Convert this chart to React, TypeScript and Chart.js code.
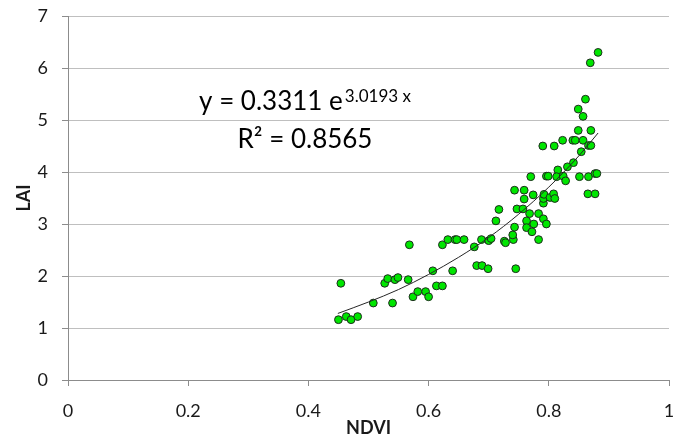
import React, { useEffect, useRef } from "react";
import { Chart, registerables } from "chart.js";

Chart.register(...registerables);

// NDVI (x) values of the measured points
const ndvi: number[] = [
  0.450, 0.463, 0.471, 0.482, 0.454, 0.508, 0.540, 0.527, 0.532, 0.544,
  0.549, 0.566, 0.568, 0.574, 0.582, 0.595, 0.600, 0.607, 0.613, 0.623,
  0.623, 0.632, 0.644, 0.647, 0.659, 0.640, 0.676, 0.688, 0.700, 0.704,
  0.680, 0.689, 0.699, 0.712, 0.717, 0.726, 0.728, 0.741, 0.740, 0.743,
  0.745, 0.783, 0.743, 0.759, 0.759, 0.770, 0.774, 0.747, 0.757, 0.768,
  0.763, 0.763, 0.775, 0.772, 0.783, 0.791, 0.796, 0.791, 0.791, 0.792,
  0.802, 0.808, 0.810, 0.796, 0.799, 0.815, 0.813, 0.824, 0.828, 0.831,
  0.841, 0.851, 0.866, 0.877, 0.880, 0.865, 0.877, 0.854, 0.882, 0.869,
  0.861, 0.849, 0.857, 0.849, 0.870, 0.823, 0.840, 0.844, 0.857, 0.866,
  0.870, 0.790, 0.809
];

// LAI (y) values of the measured points
const lai: number[] = [
  1.16, 1.22, 1.16, 1.22, 1.86, 1.48, 1.48, 1.86, 1.95, 1.93,
  1.97, 1.93, 2.60, 1.60, 1.70, 1.70, 1.60, 2.10, 1.81, 1.81,
  2.60, 2.70, 2.70, 2.70, 2.70, 2.10, 2.56, 2.70, 2.68, 2.72,
  2.20, 2.20, 2.14, 3.06, 3.28, 2.67, 2.64, 2.70, 2.79, 2.94,
  2.14, 2.70, 3.65, 3.65, 3.48, 3.91, 3.56, 3.29, 3.29, 3.20,
  3.06, 2.93, 3.00, 2.85, 3.20, 3.10, 3.00, 3.40, 3.49, 3.57,
  3.51, 3.58, 3.49, 3.92, 3.92, 4.04, 3.91, 3.92, 3.83, 4.10,
  4.18, 3.91, 3.91, 3.97, 3.97, 3.58, 3.58, 4.39, 6.30, 6.10,
  5.40, 5.21, 5.07, 4.80, 4.80, 4.61, 4.61, 4.61, 4.61, 4.51,
  4.51, 4.50, 4.50
];

// Exponential trendline
const trendX: number[] = [0.449, 0.50, 0.55, 0.60, 0.65, 0.70, 0.75, 0.80, 0.85, 0.882];
const trendY: number[] = [1.28, 1.50, 1.74, 2.03, 2.36, 2.74, 3.19, 3.71, 4.31, 4.75];

const xTicks: number[] = [0, 0.2, 0.4, 0.6, 0.8, 1];
const yTicks: number[] = [0, 1, 2, 3, 4, 5, 6, 7];

const xTitle = "NDVI";
const yTitle = "LAI";
const eqMain = "y = 0.3311 e";
const eqExp = "3.0193 x";
const eqR2 = "R\u00B2 = 0.8565";

const FONT = "Lato, 'Open Sans', sans-serif";

const equationPlugin = {
  id: "equationLabel",
  afterDatasetsDraw(chart: any) {
    const ctx = chart.ctx as CanvasRenderingContext2D;
    ctx.save();
    ctx.fillStyle = "#000000";
    ctx.textBaseline = "alphabetic";
    ctx.textAlign = "left";
    const big = `26px ${FONT}`;
    const small = `17px ${FONT}`;
    ctx.font = big;
    const w1 = ctx.measureText(eqMain).width;
    ctx.font = small;
    const w2 = ctx.measureText(eqExp).width;
    const cx = 305;
    const x1 = cx - (w1 + 2 + w2) / 2;
    ctx.font = big;
    ctx.fillText(eqMain, x1, 110);
    ctx.font = small;
    ctx.fillText(eqExp, x1 + w1 + 2, 102);
    ctx.font = big;
    const w3 = ctx.measureText(eqR2).width;
    ctx.fillText(eqR2, cx - w3 / 2, 148);
    ctx.restore();
  },
};

export default function App() {
  const canvasRef = useRef<HTMLCanvasElement | null>(null);

  useEffect(() => {
    const canvas = canvasRef.current;
    if (!canvas) return;
    const points = ndvi.map((x, i) => ({ x, y: lai[i] }));
    const trend = trendX.map((x, i) => ({ x, y: trendY[i] }));

    const chart = new Chart(canvas, {
      type: "scatter",
      data: {
        datasets: [
          {
            label: "trend",
            data: trend,
            showLine: true,
            borderColor: "#262626",
            borderWidth: 1,
            pointRadius: 0,
            cubicInterpolationMode: "monotone",
            fill: false,
          } as any,
          {
            label: "LAI",
            data: points,
            pointRadius: 3.9,
            pointBackgroundColor: "#00e600",
            pointBorderColor: "#1e2a1e",
            pointBorderWidth: 1,
            showLine: false,
          } as any,
        ],
      },
      options: {
        responsive: false,
        devicePixelRatio: 1,
        animation: false,
        layout: { padding: { top: 16, right: 21, left: 0, bottom: 0 } },
        plugins: {
          legend: { display: false },
          tooltip: { enabled: false },
        },
        scales: {
          x: {
            type: "linear",
            min: 0,
            max: 1,
            afterBuildTicks: (s: any) => {
              s.ticks = xTicks.map((v) => ({ value: v }));
            },
            afterFit: (s: any) => {
              s.height = 61;
              s.paddingLeft = 0;
              s.paddingRight = 0;
            },
            ticks: {
              color: "#1a1a1a",
              font: { family: FONT, size: 18 },
              padding: 14,
              maxRotation: 0,
              callback: (v: any) => String(v),
            },
            grid: {
              drawOnChartArea: false,
              drawTicks: true,
              tickLength: 6,
              color: "#8c8c8c",
            },
            border: { color: "#8c8c8c", width: 1 },
            title: {
              display: true,
              text: xTitle,
              color: "#1a1a1a",
              font: { family: FONT, size: 18, weight: "bold" },
              padding: { top: 0, bottom: 2 },
            },
          },
          y: {
            type: "linear",
            min: 0,
            max: 7,
            afterBuildTicks: (s: any) => {
              s.ticks = yTicks.map((v) => ({ value: v }));
            },
            afterFit: (s: any) => {
              s.width = 68;
              s.paddingTop = 0;
              s.paddingBottom = 0;
            },
            ticks: {
              color: "#1a1a1a",
              font: { family: FONT, size: 18 },
              padding: 14,
              callback: (v: any) => String(v),
            },
            grid: {
              color: "#bfbfbf",
              tickColor: "#8c8c8c",
              drawTicks: true,
              tickLength: 6,
            },
            border: { color: "#8c8c8c", width: 1 },
            title: {
              display: true,
              text: yTitle,
              color: "#1a1a1a",
              font: { family: FONT, size: 18, weight: "bold" },
              padding: { top: 13, bottom: 0 },
            },
          },
        },
      },
      plugins: [equationPlugin],
    });

    return () => {
      chart.destroy();
    };
  }, []);

  return (
    <div style={{ position: "absolute", left: 0, top: 0, width: 690, height: 441, background: "#ffffff" }}>
      <canvas ref={canvasRef} width={690} height={441} style={{ display: "block" }} />
    </div>
  );
}
